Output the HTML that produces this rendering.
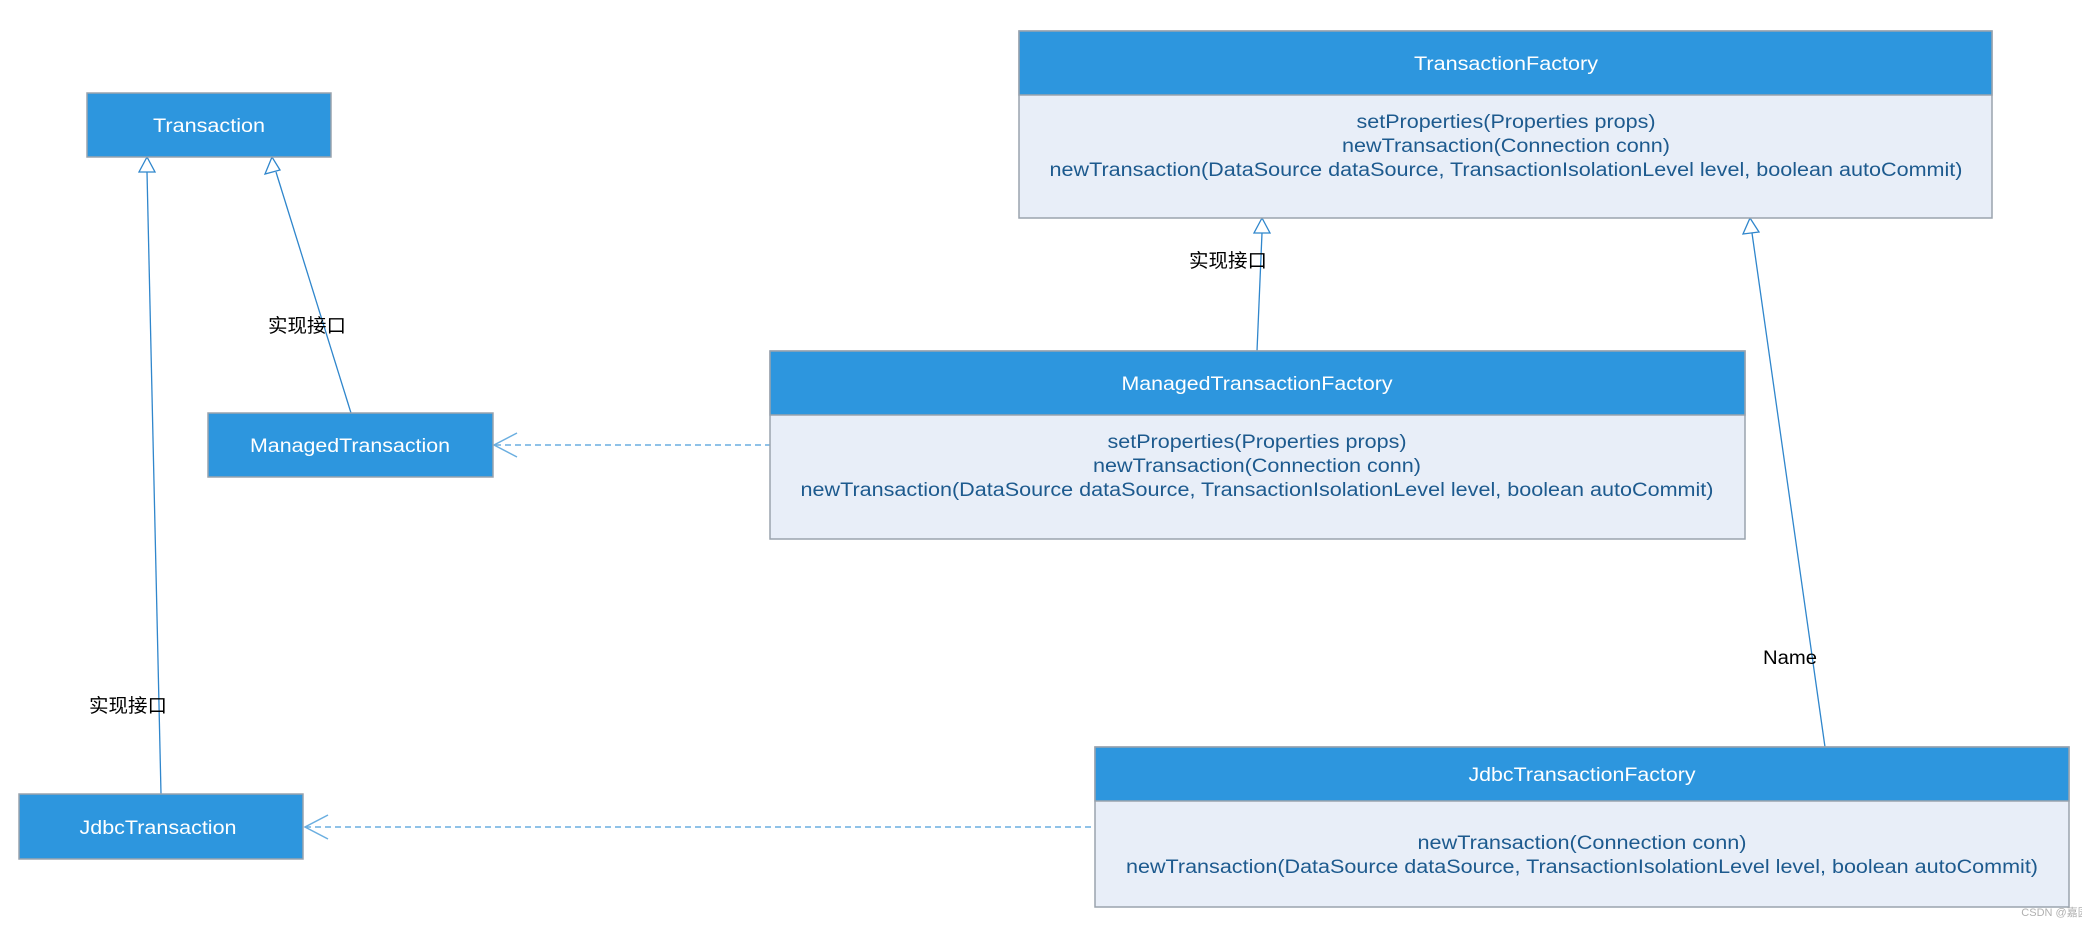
<!DOCTYPE html>
<html><head><meta charset="utf-8"><style>
html,body{margin:0;padding:0;background:#fff;}
svg{display:block;}
text{font-family:"Liberation Sans","Noto Sans CJK SC",sans-serif;}
.t{fill:#fff;font-size:19px;text-anchor:middle;}
.m{fill:#1d5a8e;font-size:19px;text-anchor:middle;}
.l{fill:#000;font-size:19px;text-anchor:middle;}
.hd{fill:#2d96de;stroke:#9aa3ad;stroke-width:1.5;}
.bd{fill:#e8eef8;stroke:#9aa3ad;stroke-width:1.5;}
.ln{stroke:#2f86cc;stroke-width:1.3;fill:none;}
.ds{stroke:#6aaee0;stroke-width:1.5;fill:none;stroke-dasharray:6,4;}
.ah{fill:#fff;stroke:#2f86cc;stroke-width:1.3;}
</style></head><body>
<svg width="2082" height="926" viewBox="0 0 2082 926" xmlns="http://www.w3.org/2000/svg">
<!-- connectors -->
<line class="ln" x1="147" y1="172" x2="161" y2="794"/>
<polygon class="ah" points="147,157 139,172 155,172"/>
<line class="ln" x1="276" y1="172" x2="351" y2="413"/>
<polygon class="ah" points="272,157 265,174 280,170"/>
<line class="ln" x1="1262" y1="233" x2="1257" y2="351"/>
<polygon class="ah" points="1262,218 1254,233 1270,233"/>
<line class="ln" x1="1752" y1="233" x2="1825" y2="747"/>
<polygon class="ah" points="1750,218 1743,234 1759,232"/>
<line class="ds" x1="495" y1="445" x2="770" y2="445"/>
<polyline class="ds" style="stroke-dasharray:none" points="517,433 494,445 517,457"/>
<line class="ds" x1="305" y1="827" x2="1095" y2="827"/>
<polyline class="ds" style="stroke-dasharray:none" points="328,815 305,827 328,839"/>

<!-- Transaction -->
<rect class="hd" x="87" y="93" width="244" height="64"/>
<text class="t" x="209" y="132" textLength="112" lengthAdjust="spacingAndGlyphs">Transaction</text>
<!-- ManagedTransaction -->
<rect class="hd" x="208" y="413" width="285" height="64"/>
<text class="t" x="350" y="452" textLength="200" lengthAdjust="spacingAndGlyphs">ManagedTransaction</text>
<!-- JdbcTransaction -->
<rect class="hd" x="19" y="794" width="284" height="65"/>
<text class="t" x="158" y="834" textLength="157" lengthAdjust="spacingAndGlyphs">JdbcTransaction</text>

<!-- TransactionFactory -->
<rect class="bd" x="1019" y="31" width="973" height="187"/>
<rect class="hd" x="1019" y="31" width="973" height="64"/>
<text class="t" x="1506" y="70" textLength="184" lengthAdjust="spacingAndGlyphs">TransactionFactory</text>
<text class="m" x="1506" y="128" textLength="299" lengthAdjust="spacingAndGlyphs">setProperties(Properties props)</text>
<text class="m" x="1506" y="152" textLength="328" lengthAdjust="spacingAndGlyphs">newTransaction(Connection conn)</text>
<text class="m" x="1506" y="176" textLength="913" lengthAdjust="spacingAndGlyphs">newTransaction(DataSource dataSource, TransactionIsolationLevel level, boolean autoCommit)</text>

<!-- ManagedTransactionFactory -->
<rect class="bd" x="770" y="351" width="975" height="188"/>
<rect class="hd" x="770" y="351" width="975" height="64"/>
<text class="t" x="1257" y="390" textLength="271" lengthAdjust="spacingAndGlyphs">ManagedTransactionFactory</text>
<text class="m" x="1257" y="448" textLength="299" lengthAdjust="spacingAndGlyphs">setProperties(Properties props)</text>
<text class="m" x="1257" y="472" textLength="328" lengthAdjust="spacingAndGlyphs">newTransaction(Connection conn)</text>
<text class="m" x="1257" y="496" textLength="913" lengthAdjust="spacingAndGlyphs">newTransaction(DataSource dataSource, TransactionIsolationLevel level, boolean autoCommit)</text>

<!-- JdbcTransactionFactory -->
<rect class="bd" x="1095" y="747" width="974" height="160"/>
<rect class="hd" x="1095" y="747" width="974" height="54"/>
<text class="t" x="1582" y="781" textLength="227" lengthAdjust="spacingAndGlyphs">JdbcTransactionFactory</text>
<text class="m" x="1582" y="849" textLength="329" lengthAdjust="spacingAndGlyphs">newTransaction(Connection conn)</text>
<text class="m" x="1582" y="873" textLength="912" lengthAdjust="spacingAndGlyphs">newTransaction(DataSource dataSource, TransactionIsolationLevel level, boolean autoCommit)</text>

<!-- labels -->
<text class="l" x="307" y="332" textLength="78" lengthAdjust="spacingAndGlyphs">实现接口</text>
<text class="l" x="128" y="712" textLength="78" lengthAdjust="spacingAndGlyphs">实现接口</text>
<text class="l" x="1228" y="267" textLength="78" lengthAdjust="spacingAndGlyphs">实现接口</text>
<text class="l" x="1790" y="664" textLength="54" lengthAdjust="spacingAndGlyphs">Name</text>
<text x="2055" y="916" style="fill:#b0b0b0;font-size:11px;text-anchor:middle;">CSDN @嘉园</text>
</svg>
</body></html>
